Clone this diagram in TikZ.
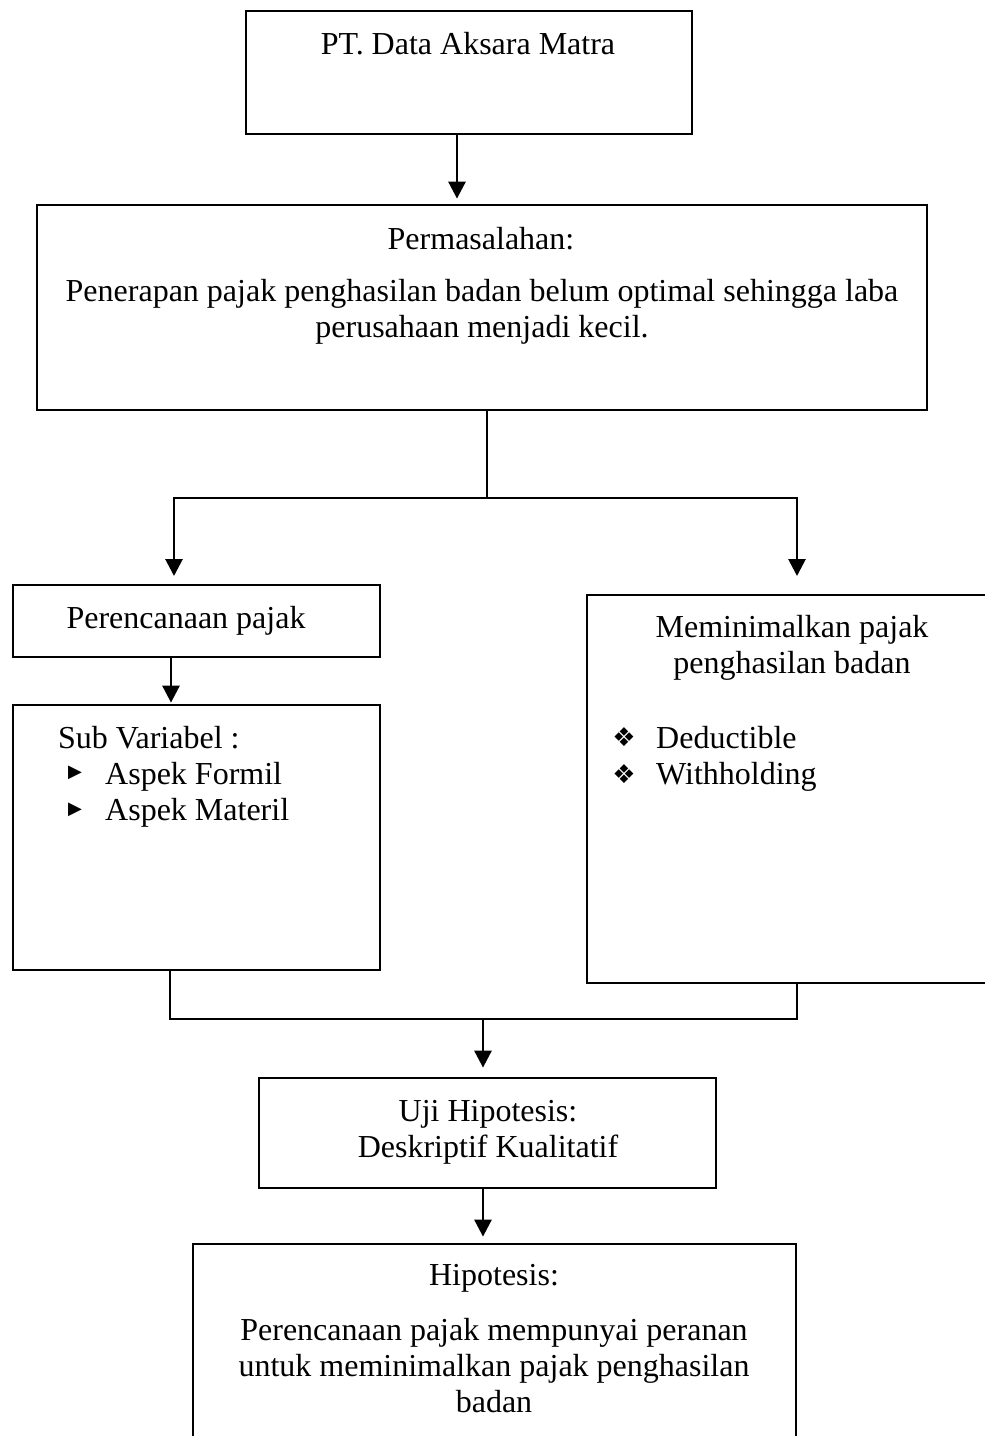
\documentclass[tikz,border=0pt]{standalone}
\usepackage{fontspec}
\setmainfont{Liberation Serif}
\newfontfamily\symfont{DejaVu Sans}
\usetikzlibrary{arrows.meta}
\tikzset{
  box/.style={draw, line width=2.8pt, rectangle, inner sep=0pt},
  txt/.style={inner sep=0pt, font=\fontsize{32}{36}\selectfont, align=center},
  ltxt/.style={inner sep=0pt, font=\fontsize{32}{36}\selectfont, anchor=base west},
  tri/.style={inner sep=0pt, font=\symfont\fontsize{18}{18}\selectfont},
  dia/.style={inner sep=0pt, font=\symfont\fontsize{26}{26}\selectfont},
  conn/.style={line width=2.8pt},
  arr/.style={line width=2.8pt, -{Triangle[width=17pt,length=17pt]}},
}
\begin{document}
\begin{tikzpicture}[x=1pt,y=-1pt]
\useasboundingbox (0,0) rectangle (985,1436);
\clip (0,0) rectangle (985,1436);
% boxes
\node[box, minimum width=446pt, minimum height=123pt] (top) at (469,72.5) {};
\node[box, minimum width=890pt, minimum height=205pt] (perm) at (482,307.5) {};
\node[box, minimum width=367pt, minimum height=72pt] (perenc) at (196.5,621) {};
\node[box, minimum width=367pt, minimum height=265pt] (subvar) at (196.5,837.5) {};
\node[box, minimum width=413pt, minimum height=388pt] (mini) at (793.5,789) {};
\node[box, minimum width=457pt, minimum height=110pt] (uji) at (487.5,1133) {};
\node[box, minimum width=603pt, minimum height=216pt] (hipo) at (494.5,1352) {};
% texts
\node[txt] (ttop) at (468,44) {PT. Data Aksara Matra};
\node[txt] (tperm1) at (481,239) {Permasalahan:};
\node[txt] (tperm2) at (482,312) {Penerapan pajak penghasilan badan belum optimal sehingga laba\\perusahaan menjadi kecil.};
\node[txt] (tperenc) at (186,621) {Perencanaan pajak};
\node[ltxt] (tsub) at (58,748) {Sub Variabel :};
\node[tri] (b1) at (75,773) {▶};
\node[ltxt] (tsub1) at (105,784) {Aspek Formil};
\node[tri] (b2) at (75,810) {▶};
\node[ltxt] (tsub2) at (105,820) {Aspek Materil};
\node[txt] (tmini) at (792,648) {Meminimalkan pajak\\penghasilan badan};
\node[dia] (b3) at (624,737) {❖};
\node[ltxt] (tmini1) at (656,748) {Deductible};
\node[dia] (b4) at (624,774) {❖};
\node[ltxt] (tmini2) at (656,784) {Withholding};
\node[txt] (tuji) at (488,1132.5) {Uji Hipotesis:\\Deskriptif Kualitatif};
\node[txt] (thipo1) at (494,1278) {Hipotesis:};
\node[txt] (thipo2) at (494,1366) {Perencanaan pajak mempunyai peranan\\untuk meminimalkan pajak penghasilan\\badan};
% coordinates
\coordinate (split) at (487,498);
\coordinate (lsplit) at (174,498);
\coordinate (rsplit) at (797,498);
\coordinate (ltip) at (174,576);
\coordinate (rtip) at (797,576);
\coordinate (merge) at (483,1019);
% connectors
\draw[arr, shorten >=5pt] ([xshift=-12pt]top.south) -- ([xshift=-12pt]top.south |- perm.north);
\draw[conn] ([xshift=5pt]perm.south) -- (split);
\draw[conn, line cap=rect] (lsplit) -- (rsplit);
\draw[arr] (lsplit) -- (ltip);
\draw[arr] (rsplit) -- (rtip);
\draw[arr, shorten >=1pt] ([xshift=-25.5pt]perenc.south) -- ([xshift=-25.5pt]subvar.north);
\draw[conn] ([xshift=-26.5pt]subvar.south) |- (merge) -| ([xshift=3.5pt]mini.south);
\draw[arr, shorten >=9pt] (merge) -- (merge |- uji.north);
\draw[arr, shorten >=6pt] ([xshift=-4.5pt]uji.south) -- ([xshift=-4.5pt]uji.south |- hipo.north);
\end{tikzpicture}
\end{document}
